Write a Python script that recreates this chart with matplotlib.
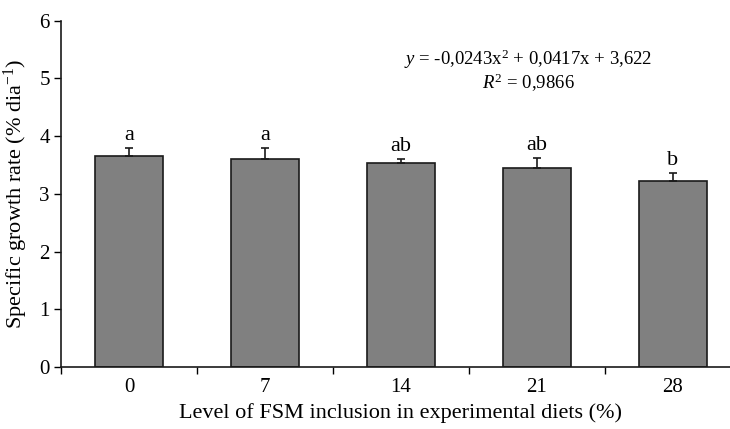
import matplotlib
matplotlib.use("Agg")
import matplotlib.pyplot as plt
import numpy as np

categories = ["0", "7", "14", "21", "28"]
values = [3.66, 3.60, 3.54, 3.445, 3.225]
errors = [0.13, 0.20, 0.07, 0.18, 0.13]
letters = ["a", "a", "ab", "ab", "b"]
yticks = [0, 1, 2, 3, 4, 5, 6]

plt.rcParams['font.family'] = ['Liberation Serif', 'DejaVu Serif']
plt.rcParams['mathtext.fontset'] = 'custom'
plt.rcParams['mathtext.rm'] = 'Liberation Serif'
plt.rcParams['mathtext.it'] = 'Liberation Serif:italic'
plt.rcParams['mathtext.bf'] = 'Liberation Serif:bold'

fig = plt.figure(figsize=(7.3, 4.29), dpi=100)
ax = fig.add_axes([61/730, 62/429, 680/730, 346.3/429])

x = np.arange(len(categories))
ax.bar(x, values, width=0.5, color="#808080", edgecolor="#1a1a1a", linewidth=1.2, zorder=2)
ax.errorbar(x, values, yerr=[np.zeros(len(errors)), errors], fmt="none",
            ecolor="#1a1a1a", elinewidth=1.2, capsize=3, capthick=1.2, zorder=3)
for xi, v, e, l in zip(x, values, errors, letters):
    ax.text(xi, v + e + 0.05, l, ha="center", va="bottom", fontsize=16)

ax.set_xlim(-0.5, 4.5)
ax.set_ylim(0, 6)
ax.set_yticks(yticks)
ax.set_yticklabels([str(t) for t in yticks], fontsize=15)
ax.set_xticks(np.arange(-0.5, 5, 1.0))
ax.set_xticklabels([])
ax.set_xticks(x, minor=True)
ax.set_xticklabels(categories, minor=True, fontsize=15)
ax.tick_params(axis="x", which="minor", length=0, pad=8)
ax.tick_params(axis="x", which="major", length=5, direction="out", width=1)
ax.tick_params(axis="y", length=5, direction="out", width=1, pad=3)

for s in ["top", "right"]:
    ax.spines[s].set_visible(False)
for s in ["left", "bottom"]:
    ax.spines[s].set_linewidth(1.2)
    ax.spines[s].set_color("#1a1a1a")

ax.set_ylabel("Specific growth rate (% dia$^{-1}$)", fontsize=16, labelpad=7)
ax.set_xlabel("Level of FSM inclusion in experimental diets (%)", fontsize=16, labelpad=4)

fig.text(528/730, 1 - 59/429, "$y$ = -0,0243x$^2$ + 0,0417x + 3,622",
         ha="center", va="center", fontsize=13.5)
fig.text(528/730, 1 - 83/429, "$R^2$ = 0,9866",
         ha="center", va="center", fontsize=13.5)

fig.savefig("out.png", dpi=100)
